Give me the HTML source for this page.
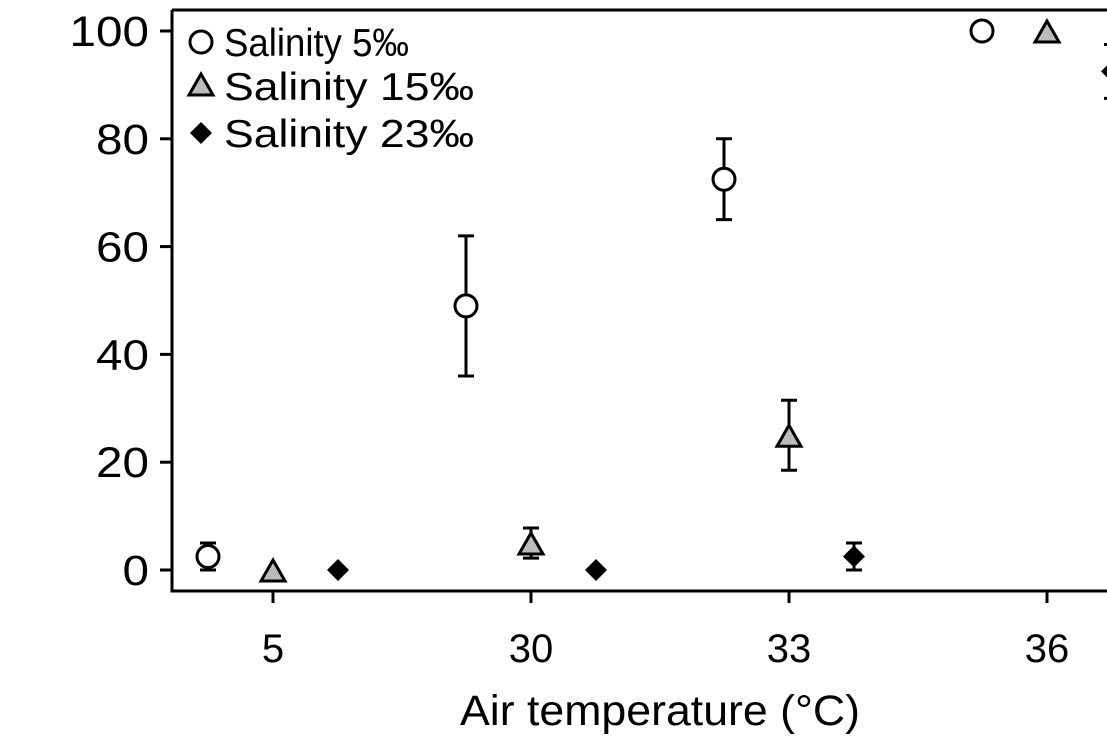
<!DOCTYPE html>
<html><head><meta charset="utf-8"><style>
html,body{margin:0;padding:0;background:#fff;width:1107px;height:738px;overflow:hidden}
svg{display:block;font-family:"Liberation Sans",Arial,sans-serif}
</style></head><body>
<svg id="chart" width="1107" height="738" viewBox="0 0 1107 738"></svg>
<script>
const categories = ["5","30","33","36"];
const yTicks = [0,20,40,60,80,100];
const sal5 = [2.5,49,72.5,100];
const sal5Err = [2.5,13,7.5,0];
const sal15 = [0,5,25,100];
const sal15Err = [0,2.8,6.5,0];
const sal23 = [0,0,2.5,92.5];
const sal23Err = [0,0,2.5,5];

const NS="http://www.w3.org/2000/svg";
const svg=document.getElementById('chart');
function mk(tag,attrs,parent){const e=document.createElementNS(NS,tag);for(const k in attrs)e.setAttribute(k,attrs[k]);(parent||svg).appendChild(e);return e;}
const x0=273, xStep=258;
function xScale(i,off){return x0+i*xStep+off;}
function yScale(v){return 570-v*5.39;}

let a=mk('path',{d:'M172,10 H1107 M172,10 V591 H1107',fill:'none',stroke:'#000','stroke-width':3});


yTicks.forEach(t=>{
  const y=yScale(t);
  const l=mk('line',{x1:160,x2:172,y1:y,y2:y,stroke:'#000','stroke-width':3});
  
  
  const tx=mk('text',{x:149,y:y+15,'text-anchor':'end','font-size':43,'textLength':String(t).length*26.5,'lengthAdjust':'spacingAndGlyphs'});
  tx.textContent=t;
  
  
});
categories.forEach((c,i)=>{
  const x=xScale(i,0);
  const l=mk('line',{x1:x,x2:x,y1:591,y2:603,stroke:'#000','stroke-width':3});
  
  
  const tx=mk('text',{x:x,y:662,'text-anchor':'middle','font-size':40});
  tx.textContent=c;
  
  
});
const xt=mk('text',{x:660,y:725,'text-anchor':'middle','font-size':43,'textLength':400,'lengthAdjust':'spacingAndGlyphs'});
xt.textContent='Air temperature (°C)';



function errBar(x,v,e){
  if(!e)return;
  const g=mk('path',{d:`M${x},${yScale(v+e)} V${yScale(v-e)} M${x-8},${yScale(v+e)} H${x+8} M${x-8},${yScale(v-e)} H${x+8}`,stroke:'#000','stroke-width':3,fill:'none'});
  
  
}
function circle(x,y,p){return mk('circle',{cx:x,cy:y,r:11,fill:'#fff',stroke:'#000','stroke-width':3},p);}
function tri(x,y,p){return mk('polygon',{points:`${x},${y-12} ${x-12},${y+9} ${x+12},${y+9}`,fill:'#bbb',stroke:'#000','stroke-width':3},p);}
function dia(x,y,p){return mk('polygon',{points:`${x},${y-11} ${x+11},${y} ${x},${y+11} ${x-11},${y}`,fill:'#000'},p);}

sal5.forEach((v,i)=>{const x=xScale(i,-65);errBar(x,v,sal5Err[i]);const m=circle(x,yScale(v));

});
sal15.forEach((v,i)=>{const x=xScale(i,0);errBar(x,v,sal15Err[i]);const m=tri(x,yScale(v)+2);

});
sal23.forEach((v,i)=>{const x=xScale(i,65);errBar(x,v,sal23Err[i]);const m=dia(x,yScale(v));

});

const leg=[['Salinity 5‰',circle,185],['Salinity 15‰',tri,250],['Salinity 23‰',dia,250]];
const legY=[42,86,133];
leg.forEach((L,i)=>{
  const g=mk('g',{});
  
  
  L[1](201,legY[i],g);
  const t=mk('text',{x:224,y:legY[i]+14,'font-size':39,'textLength':L[2],'lengthAdjust':'spacingAndGlyphs'},g);
  t.textContent=L[0];
});
</script>
</body></html>
